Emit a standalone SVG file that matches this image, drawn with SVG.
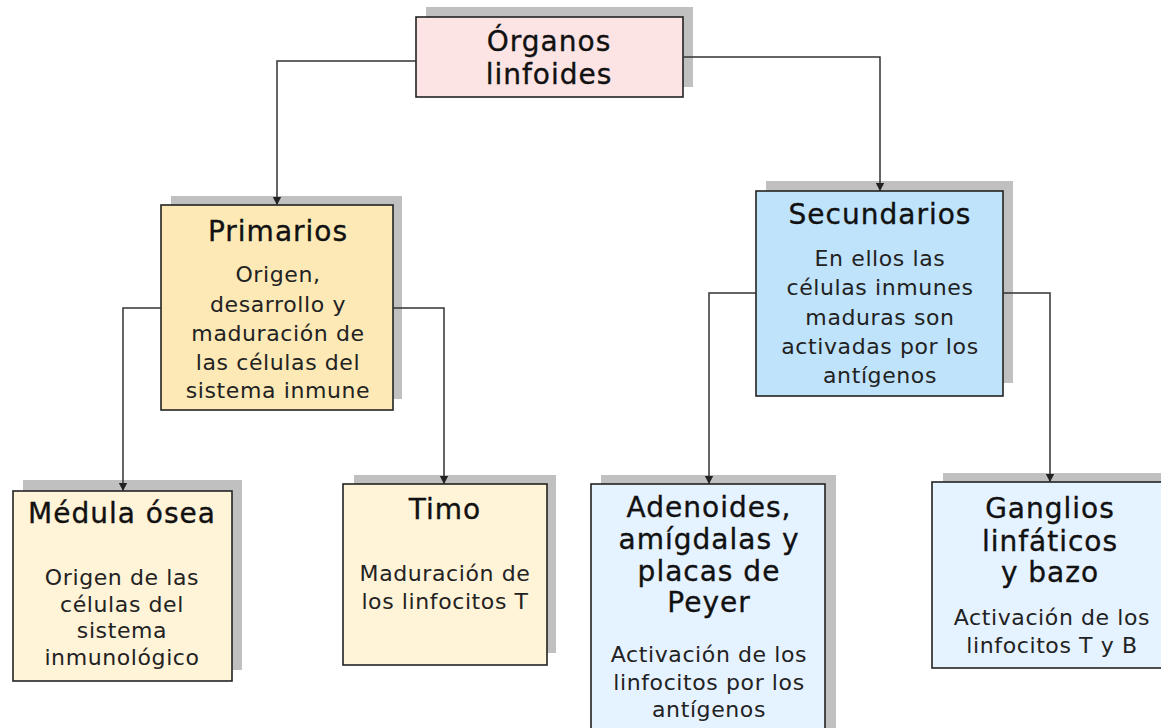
<svg xmlns="http://www.w3.org/2000/svg" width="1161" height="728" viewBox="0 0 1161 728">
<style>
.sh{fill:#c0c0c0}
.bx{stroke:#222;stroke-width:1.6}
.pink{fill:#fde4e4}
.prim{fill:#fce9b6}
.cream{fill:#fff3d8}
.sec{fill:#bfe3fb}
.lblue{fill:#e5f2ff}
.t{font-family:"DejaVu Sans",Verdana,sans-serif;font-size:28px;letter-spacing:1px;fill:#111;stroke:#111;stroke-width:0.35px;text-anchor:middle}
.b{font-family:"DejaVu Sans",Verdana,sans-serif;font-size:22px;letter-spacing:0.6px;fill:#222;text-anchor:middle}
.c{fill:none;stroke:#333;stroke-width:1.5}
</style>
<defs>
<marker id="ah" markerWidth="10" markerHeight="10" refX="9" refY="5" orient="auto" markerUnits="userSpaceOnUse" viewBox="0 0 10 10">
<path d="M1,0.8 L9,5 L1,9.2 Z" fill="#222"/>
</marker>
</defs>
<rect width="1161" height="728" fill="#fff"/>
<g id="organos">
<rect class="sh" x="426" y="7" width="267" height="80"/>
<rect class="bx pink" x="416" y="17" width="267" height="80"/>
<text class="t" x="549" y="51">Órganos</text>
<text class="t" x="549" y="84">linfoides</text>
</g>
<g id="primarios">
<rect class="sh" x="171" y="196" width="231" height="203"/>
<rect class="bx prim" x="161" y="205" width="232" height="205"/>
<text class="t" x="278" y="241">Primarios</text>
<text class="b" x="278" y="282">Origen,</text>
<text class="b" x="278" y="312">desarrollo y</text>
<text class="b" x="278" y="341">maduración de</text>
<text class="b" x="278" y="370">las células del</text>
<text class="b" x="278" y="398">sistema inmune</text>
</g>
<g id="secundarios">
<rect class="sh" x="766" y="181" width="247" height="202"/>
<rect class="bx sec" x="756" y="191" width="247" height="205"/>
<text class="t" x="880" y="224">Secundarios</text>
<text class="b" x="880" y="266">En ellos las</text>
<text class="b" x="880" y="295">células inmunes</text>
<text class="b" x="880" y="325">maduras son</text>
<text class="b" x="880" y="354">activadas por los</text>
<text class="b" x="880" y="383">antígenos</text>
</g>
<g id="medula">
<rect class="sh" x="23" y="480" width="219" height="190"/>
<rect class="bx cream" x="13" y="491" width="219" height="190"/>
<text class="t" x="122" y="523">Médula ósea</text>
<text class="b" x="122" y="585">Origen de las</text>
<text class="b" x="122" y="612">células del</text>
<text class="b" x="122" y="638">sistema</text>
<text class="b" x="122" y="665">inmunológico</text>
</g>
<g id="timo">
<rect class="sh" x="354" y="475" width="202" height="178"/>
<rect class="bx cream" x="343" y="484" width="204" height="181"/>
<text class="t" x="445" y="519">Timo</text>
<text class="b" x="445" y="581">Maduración de</text>
<text class="b" x="445" y="609">los linfocitos T</text>
</g>
<g id="adenoides">
<rect class="sh" x="601" y="475" width="235" height="260"/>
<rect class="bx lblue" x="591" y="484" width="234" height="260"/>
<text class="t" x="709" y="517">Adenoides,</text>
<text class="t" x="709" y="549">amígdalas y</text>
<text class="t" x="709" y="581">placas de</text>
<text class="t" x="709" y="612">Peyer</text>
<text class="b" x="709" y="662">Activación de los</text>
<text class="b" x="709" y="690">linfocitos por los</text>
<text class="b" x="709" y="717">antígenos</text>
</g>
<g id="ganglios">
<rect class="sh" x="943" y="473" width="236" height="183"/>
<rect class="bx lblue" x="932" y="482" width="236" height="186"/>
<text class="t" x="1050" y="518">Ganglios</text>
<text class="t" x="1050" y="551">linfáticos</text>
<text class="t" x="1050" y="582">y bazo</text>
<text class="b" x="1052" y="625">Activación de los</text>
<text class="b" x="1052" y="653">linfocitos T y B</text>
</g>
<g id="connectors">
<path class="c" d="M416,61 H277 V205" marker-end="url(#ah)"/>
<path class="c" d="M683,57 H880 V191" marker-end="url(#ah)"/>
<path class="c" d="M161,308 H123 V491" marker-end="url(#ah)"/>
<path class="c" d="M393,308 H444 V484" marker-end="url(#ah)"/>
<path class="c" d="M756,293 H709 V484" marker-end="url(#ah)"/>
<path class="c" d="M1003,293 H1050 V482" marker-end="url(#ah)"/>
</g>
</svg>
